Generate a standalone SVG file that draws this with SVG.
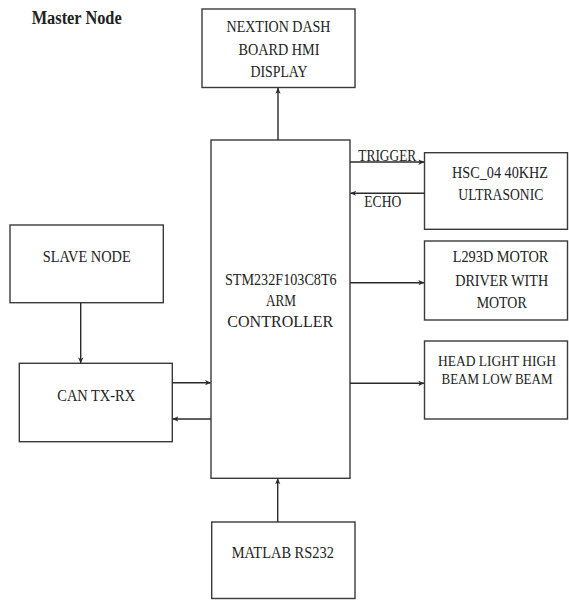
<svg xmlns="http://www.w3.org/2000/svg" width="569" height="600" viewBox="0 0 569 600">
<style>
.box{fill:#fff;stroke:#3a3a3a;stroke-width:1.4}
.t{font-family:"Liberation Serif","Times New Roman",serif;font-size:17px;fill:#222;text-anchor:middle}
.s{text-anchor:start}
.n{font-size:14px}
.b{font-weight:bold;font-size:18px}
.c{stroke:#2a2a2a;stroke-width:1.4;fill:none;marker-end:url(#ah)}
</style>
<defs>
<marker id="ah" viewBox="0 0 8 8" refX="7.5" refY="4" markerWidth="6" markerHeight="6" markerUnits="userSpaceOnUse" orient="auto">
<path d="M0,0.5 L8,4 L0,7.5 L2,4 z" fill="#2a2a2a"/>
</marker>
</defs>
<rect width="569" height="600" fill="#fff"/>
<text class="t s b" x="31.7" y="24" textLength="90" lengthAdjust="spacingAndGlyphs">Master Node</text>

<g id="nextion">
<rect class="box" x="202" y="9" width="153" height="78.5"/>
<text class="t" x="278.5" y="31.7" textLength="104" lengthAdjust="spacingAndGlyphs">NEXTION DASH</text>
<text class="t" x="279" y="55" textLength="81" lengthAdjust="spacingAndGlyphs">BOARD HMI</text>
<text class="t" x="279" y="77.3" textLength="57" lengthAdjust="spacingAndGlyphs">DISPLAY</text>
</g>

<g id="controller">
<rect class="box" x="211" y="140" width="139" height="338.3"/>
<text class="t" x="280.8" y="285" textLength="111.7" lengthAdjust="spacingAndGlyphs">STM232F103C8T6</text>
<text class="t" x="281" y="306" textLength="30" lengthAdjust="spacingAndGlyphs">ARM</text>
<text class="t" x="280.3" y="326.7" textLength="106" lengthAdjust="spacingAndGlyphs">CONTROLLER</text>
</g>

<g id="ultrasonic">
<rect class="box" x="424.5" y="152.7" width="143" height="76.6"/>
<text class="t" x="500" y="178" textLength="96" lengthAdjust="spacingAndGlyphs">HSC_04 40KHZ</text>
<text class="t" x="500.8" y="200" textLength="85" lengthAdjust="spacingAndGlyphs">ULTRASONIC</text>
</g>

<g id="motor">
<rect class="box" x="424.5" y="241" width="143" height="79"/>
<text class="t" x="500.5" y="261.7" textLength="95.7" lengthAdjust="spacingAndGlyphs">L293D MOTOR</text>
<text class="t" x="501.7" y="285.7" textLength="93" lengthAdjust="spacingAndGlyphs">DRIVER WITH</text>
<text class="t" x="501.7" y="308.3" textLength="50" lengthAdjust="spacingAndGlyphs">MOTOR</text>
</g>

<g id="headlight">
<rect class="box" x="424.5" y="341" width="143" height="78"/>
<text class="t n" x="497" y="366" textLength="118" lengthAdjust="spacingAndGlyphs">HEAD LIGHT HIGH</text>
<text class="t n" x="497" y="384.3" textLength="111" lengthAdjust="spacingAndGlyphs">BEAM LOW BEAM</text>
</g>

<g id="slave">
<rect class="box" x="10" y="225" width="153.3" height="77.7"/>
<text class="t" x="86.7" y="261.7" textLength="88" lengthAdjust="spacingAndGlyphs">SLAVE NODE</text>
</g>

<g id="can">
<rect class="box" x="19.3" y="363.3" width="153" height="78.4"/>
<text class="t" x="96.2" y="401" textLength="77.7" lengthAdjust="spacingAndGlyphs">CAN TX-RX</text>
</g>

<g id="matlab">
<rect class="box" x="211.7" y="522" width="143.3" height="76.5"/>
<text class="t" x="282.8" y="558.3" textLength="102.3" lengthAdjust="spacingAndGlyphs">MATLAB RS232</text>
</g>

<g id="connectors">
<line class="c" x1="278" y1="140" x2="278" y2="88"/>
<line class="c" x1="350" y1="162" x2="424" y2="162"/>
<line class="c" x1="424.5" y1="193.3" x2="350.5" y2="193.3"/>
<line class="c" x1="350" y1="282.7" x2="424" y2="282.7"/>
<line class="c" x1="350" y1="383.3" x2="424" y2="383.3"/>
<line class="c" x1="80.7" y1="302.7" x2="80.7" y2="363"/>
<line class="c" x1="172.3" y1="382.7" x2="210.7" y2="382.7"/>
<line class="c" x1="211" y1="419" x2="172.8" y2="419"/>
<line class="c" x1="277.7" y1="522" x2="277.7" y2="478.5"/>
<text class="t s" x="358.3" y="160.7" textLength="58" lengthAdjust="spacingAndGlyphs">TRIGGER</text>
<text class="t s" x="364.3" y="206.7" textLength="37" lengthAdjust="spacingAndGlyphs">ECHO</text>
</g>
</svg>
